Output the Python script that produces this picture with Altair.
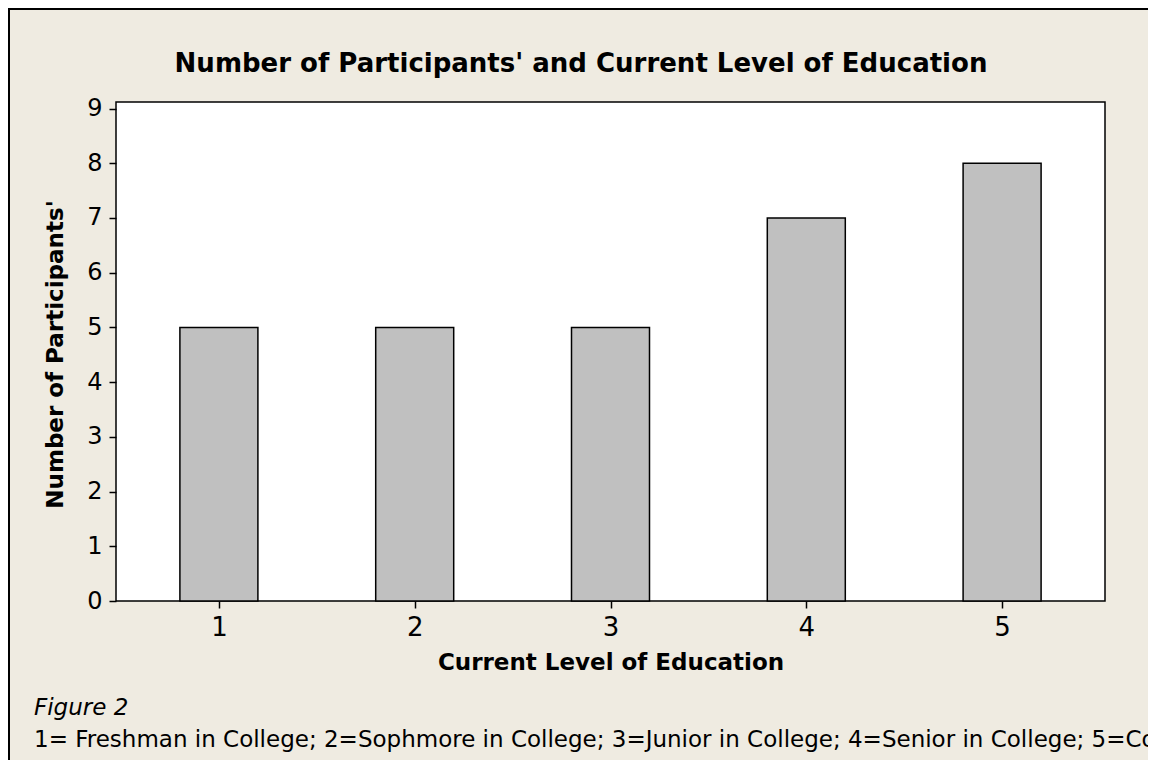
import altair as alt
import pandas as pd

# ---- data ----
levels = [1, 2, 3, 4, 5]
counts = [5, 5, 5, 7, 8]
y_ticks = [0, 1, 2, 3, 4, 5, 6, 7, 8, 9]
chart_title = "Number of Participants' and Current Level of Education"
x_title = "Current Level of Education"
y_title = "Number of Participants'"
fig_label = "Figure 2"
footnote = ("1= Freshman in College; 2=Sophmore in College; 3=Junior in College; "
            "4=Senior in College; 5=College Graduate")

df = pd.DataFrame({"level": levels, "count": counts})

W, H = 989, 499
PAD_L, PAD_T, PAD_R, PAD_B = 108, 94, 43, 159
FONT = "DejaVu Sans"
BG = "#efebe1"

bars = alt.Chart(df).mark_bar(
    size=78, color="#c0c0c0", stroke="black", strokeWidth=1.5
).encode(
    x=alt.X("level:Q",
            scale=alt.Scale(domain=[0.5, 5.5], nice=False, zero=False),
            axis=alt.Axis(values=levels, title=x_title, format="d",
                          labelFontSize=26, labelPadding=6,
                          titleFontSize=23, titleFontWeight="bold",
                          titleBaseline="alphabetic", titleY=68)),
    y=alt.Y("count:Q",
            scale=alt.Scale(domain=[0, 9.12], nice=False),
            axis=alt.Axis(values=y_ticks, title=y_title, format="d",
                          labelFontSize=24, labelPadding=7,
                          titleFontSize=23, titleFontWeight="bold",
                          titleBaseline="alphabetic",
                          titleX=-54, titleY=252)),
)

one = pd.DataFrame({"t": [chart_title]})
title_txt = alt.Chart(one).mark_text(
    font=FONT, fontSize=26, fontWeight="bold", align="center",
    baseline="alphabetic", color="black"
).encode(x=alt.value(465), y=alt.value(-30), text="t:N")

fig_df = pd.DataFrame({"t": [fig_label]})
fig_txt = alt.Chart(fig_df).mark_text(
    font=FONT, fontSize=23, fontStyle="italic", align="left",
    baseline="alphabetic", color="black"
).encode(x=alt.value(-82), y=alt.value(613), text="t:N")

foot_df = pd.DataFrame({"t": [footnote]})
foot_txt = alt.Chart(foot_df).mark_text(
    font=FONT, fontSize=23, align="left",
    baseline="alphabetic", color="black"
).encode(x=alt.value(-82), y=alt.value(645), text="t:N")

edge = pd.DataFrame({"k": [0]})
top_border = alt.Chart(edge).mark_rule(color="black", strokeWidth=2).encode(
    x=alt.value(-PAD_L), x2=alt.value(W + PAD_R), y=alt.value(-PAD_T + 1))
left_border = alt.Chart(edge).mark_rule(color="black", strokeWidth=2).encode(
    x=alt.value(-PAD_L + 1), y=alt.value(-PAD_T), y2=alt.value(H + PAD_B))

chart = alt.layer(
    bars, title_txt, fig_txt, foot_txt, top_border, left_border
).properties(
    width=W, height=H,
    autosize=alt.AutoSizeParams(type="none"),
    padding={"left": PAD_L, "top": PAD_T, "right": PAD_R, "bottom": PAD_B},
    background=BG,
).configure_view(
    fill="white", stroke="black", strokeWidth=1.5
).configure_axis(
    domain=False, grid=False, ticks=True, tickColor="black", tickSize=7,
    tickWidth=1.5, labelColor="black", titleColor="black",
    labelFont=FONT, titleFont=FONT,
)

chart.save("out.html", embed_options={"renderer": "svg", "actions": False})
